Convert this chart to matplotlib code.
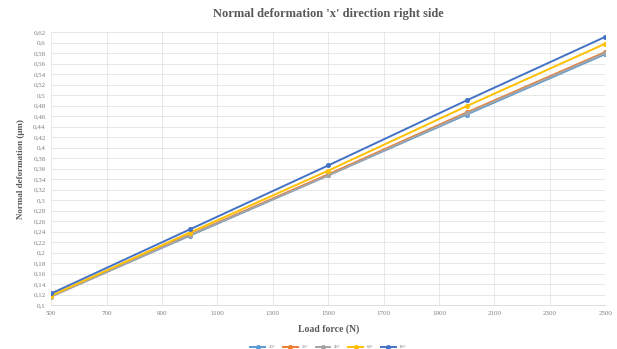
import matplotlib
matplotlib.use("Agg")
import matplotlib.pyplot as plt
from matplotlib.ticker import FuncFormatter, MultipleLocator

load_force = [500, 1000, 1500, 2000, 2500]
x_ticks = [500, 700, 900, 1100, 1300, 1500, 1700, 1900, 2100, 2300, 2500]
series_labels = ["20°", "25°", "40°", "60°", "80°"]
s20 = [0.117, 0.232, 0.347, 0.463, 0.578]
s25 = [0.117, 0.234, 0.349, 0.467, 0.582]
s40 = [0.116, 0.233, 0.347, 0.465, 0.580]
s60 = [0.118, 0.238, 0.356, 0.479, 0.598]
s80 = [0.122, 0.244, 0.366, 0.490, 0.611]
colors = ["#5B9BD5", "#ED7D31", "#A5A5A5", "#FFC000", "#4472C4"]

plt.rcParams["font.family"] = ["Liberation Serif", "DejaVu Serif"]

fig = plt.figure(figsize=(6.17, 3.49), dpi=100)
ax = fig.add_axes([0.083, 0.126, 0.898, 0.782])

for vals, lab, c in zip([s20, s25, s40, s60, s80], series_labels, colors):
    ax.plot(load_force, vals, color=c, lw=1.4, marker="o", ms=2.6, label=lab)

ax.set_xlim(500, 2500)
ax.set_ylim(0.1, 0.62)
ax.set_xticks(x_ticks)
ax.yaxis.set_major_locator(MultipleLocator(0.02))


def comma_fmt(v, pos):
    s = f"{v:.2f}".rstrip("0").rstrip(".")
    return s.replace(".", ",")


ax.yaxis.set_major_formatter(FuncFormatter(comma_fmt))
ax.tick_params(axis="both", labelsize=5, colors="#7F7F7F", length=0, pad=4)
ax.grid(True, color="#E4E4E4", lw=0.6)
ax.set_axisbelow(True)
for side in ["top", "right", "left"]:
    ax.spines[side].set_visible(False)
ax.spines["bottom"].set_color("#D9D9D9")
ax.spines["bottom"].set_linewidth(0.6)

ax.set_title("Normal deformation 'x' direction right side", fontsize=9,
             fontweight="bold", color="#595959", pad=11)
ax.set_xlabel("Load force (N)", fontsize=7, fontweight="bold", color="#595959", labelpad=6)
ax.set_ylabel("Normal deformation (μm)", fontsize=6.5, fontweight="bold", color="#595959", labelpad=6)

ax.legend(loc="upper center", bbox_to_anchor=(0.5, -0.13), ncol=5, frameon=False,
          fontsize=3.5, handlelength=3, columnspacing=1.5, labelcolor="#7F7F7F")

fig.savefig("out.png", dpi=100)
